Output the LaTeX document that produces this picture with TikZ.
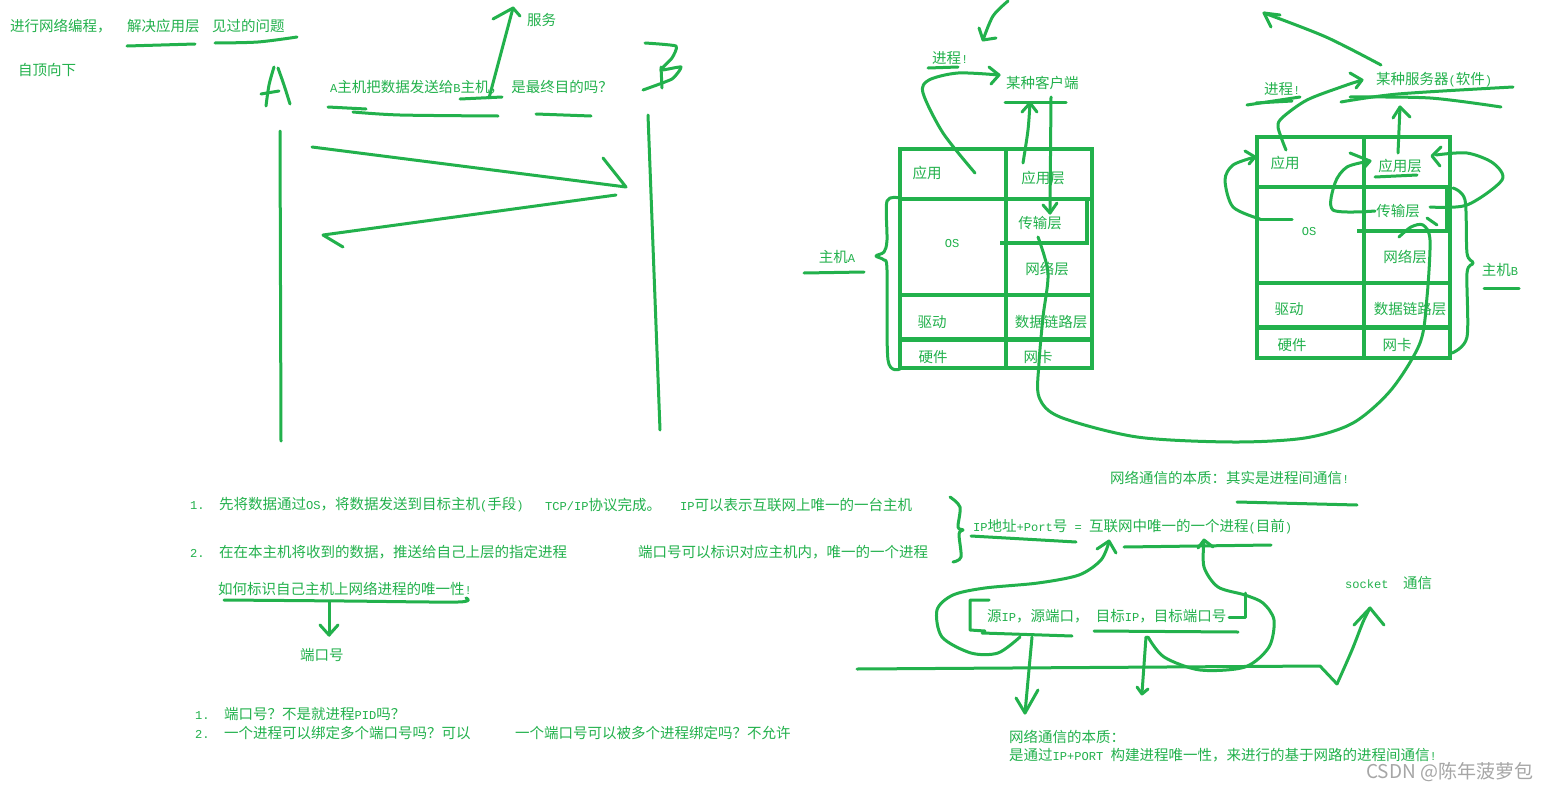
\documentclass[tikz,border=0pt]{standalone}
\usepackage{fontspec}
\setmainfont{Noto Sans CJK SC}
\newfontfamily\monof[Scale=0.833]{Liberation Mono}
\newcommand\hw[1]{{\monof #1}}
\definecolor{pg}{HTML}{22B14C}
\definecolor{wm}{HTML}{A6A6A6}
\begin{document}
\begin{tikzpicture}[x=1pt,y=-1pt,
  pen/.style={draw=pg,line width=3pt,line cap=round,line join=round},
  boxln/.style={draw=pg,line width=4pt,line cap=rect},
  txt/.style={text=pg,font=\fontsize{14.5}{17}\selectfont,inner sep=0pt},
  lt/.style={txt,anchor=west}]
\useasboundingbox[fill=white] (0,0) rectangle (1551,790);

% ---------- top left ----------
\node[lt] (t1a) at (10,26) {进行网络编程，};
\node[lt] (t1b) at (127,26) {解决应用层};
\node[lt] (t1c) at (212,26) {见过的问题};
\node[lt] (zd) at (18,70) {自顶向下};
\node[lt] (fw) at (527,20) {服务};
\node[lt] (qa) at (330,87) {\hw{A}主机把数据发送给\hw{B}主机，\hw{ }是最终目的吗？};

\draw[pen] (127,46) -- (195,44);
\draw[pen] plot[smooth] coordinates {(215,43) (258,42) (297,37)};
\draw[pen] (489,98) -- (513,8);
\draw[pen] (493,19) -- (513,8) -- (520,16);
\draw[pen] (460,99) -- (502,97);
% letter A
\draw[pen] plot[smooth] coordinates {(266,106) (269,85) (274,67)};
\draw[pen] plot[smooth] coordinates {(278,68) (284,85) (290,104)};
\draw[pen] (261,94) -- (279,91);
% letter B
\draw[pen] plot[smooth,tension=0.3] coordinates {(645,43) (676,46) (672,58) (661,70) (681,67) (672,79) (643,90)};
\draw[pen] (661,67) -- (662,88);
% underlines
\draw[pen] (328,107) -- (366,109);
\draw[pen] plot[smooth] coordinates {(353,112) (400,115) (498,116)};
\draw[pen] (536,114) -- (591,116);
% host lines
\coordinate (Atop) at (280,131);
\coordinate (Abot) at (281,441);
\coordinate (Btop) at (648,115);
\coordinate (Bbot) at (660,430);
\draw[pen] (Atop) -- (Abot);
\draw[pen] (Btop) -- (Bbot);
\draw[pen] (312,147) -- (626,187) -- (603,158);
\draw[pen] (616,195) -- (323,235) -- (343,247);

% ---------- host A ----------
\draw[boxln] (900,149) rectangle (1092,368);
\draw[boxln] (1006,149) -- (1006,368);
\draw[boxln] (900,199) -- (1092,199);
\draw[boxln] (1002,243) -- (1087,243);
\draw[boxln] (1087,199) -- (1087,243);
\draw[boxln] (900,295) -- (1092,295);
\draw[draw=pg,line width=5pt] (900,339) -- (1092,339);

\node[txt] (a1) at (927,173) {应用};
\node[txt] (a2) at (1043,178) {应用层};
\node[txt] (a3) at (1040,223) {传输层};
\node[txt] (a4) at (952,244) {\hw{OS}};
\node[txt] (a5) at (1047,269) {网络层};
\node[txt] (a6) at (932,322) {驱动};
\node[txt] (a7) at (1051,322) {数据链路层};
\node[txt] (a8) at (933,357) {硬件};
\node[txt] (a9) at (1038,357) {网卡};
\node[txt] (ha) at (837,257) {主机\hw{A}};
\node[lt] (pa) at (932,58) {进程\hw{!}};
\node[lt] (kh) at (1006,83) {某种客户端};

\draw[pen] plot[smooth] coordinates {(1008,1) (993,16) (983,40)};
\draw[pen] (979,28) -- (983,40) -- (996,38);
\draw[pen] (928,68) -- (958,67);
\draw[pen] plot[smooth] coordinates {(975,173) (943,133) (923,93) (929,80) (958,73) (999,75)};
\draw[pen] (989,67) -- (999,75) -- (991,84);
\draw[pen] (1005,102) -- (1066,102);
\draw[pen] plot[smooth] coordinates {(1023,163) (1028,130) (1030,103)};
\draw[pen] (1022,112) -- (1030,103) -- (1037,112);
\draw[pen] (1051,97) -- (1050,213);
\draw[pen] (1043,205) -- (1050,213) -- (1057,203);
\draw[pen] plot[smooth] coordinates {(900,198) (887,201) (887,240) (884,252) (876,256) (884,260) (887,270) (888,360) (900,369)};
\draw[pen] (804,273) -- (864,272);

% long connecting curve
\draw[pen] plot[smooth] coordinates {(1038,237) (1048,273) (1043,317) (1039,363) (1039,397) (1060,417) (1137,437) (1233,442) (1305,438) (1353,423) (1391,390) (1420,343) (1427,297) (1430,240) (1423,225) (1411,227) (1399,237)};
\draw[pen] (1427,218) -- (1437,225);

% ---------- host B ----------
\draw[boxln] (1257,137) rectangle (1450,358);
\draw[boxln] (1364,137) -- (1364,358);
\draw[boxln] (1257,187) -- (1450,187);
\draw[boxln] (1359,231) -- (1447,231);
\draw[boxln] (1447,187) -- (1447,231);
\draw[boxln] (1257,283) -- (1450,283);
\draw[draw=pg,line width=5pt] (1257,327) -- (1450,327);

\node[txt] (b1) at (1285,163) {应用};
\node[txt] (b2) at (1400,166) {应用层};
\node[txt] (b3) at (1398,211) {传输层};
\node[txt] (b4) at (1309,232) {\hw{OS}};
\node[txt] (b5) at (1405,257) {网络层};
\node[txt] (b6) at (1289,309) {驱动};
\node[txt] (b7) at (1410,309) {数据链路层};
\node[txt] (b8) at (1292,345) {硬件};
\node[txt] (b9) at (1397,345) {网卡};
\node[txt] (hb) at (1500,270) {主机\hw{B}};
\node[lt] (pb) at (1264,89) {进程\hw{!}};
\node[lt] (fq) at (1376,80) {某种服务器\hw{(}软件\hw{)}};

\draw[pen] (1292,219) -- (1260,219);
\draw[pen] plot[smooth] coordinates {(1260,219) (1233,207) (1225,180) (1233,165) (1255,157)};
\draw[pen] (1245,151) -- (1255,157) -- (1249,164);
\draw[pen] plot[smooth] coordinates {(1375,211) (1333,210) (1335,183) (1347,167) (1370,161)};
\draw[pen] (1350,153) -- (1370,161) -- (1364,168);
\draw[pen] plot[smooth] coordinates {(1430,207) (1467,205) (1502,180) (1493,163) (1467,153) (1436,155)};
\draw[pen] (1441,147) -- (1432,156) -- (1440,166);
\draw[pen] plot[smooth] coordinates {(1286,150) (1278,127) (1283,117) (1307,100) (1341,87) (1362,80)};
\draw[pen] (1350,73) -- (1362,80) -- (1356,88);
\draw[pen] (1247,105) -- (1300,97);
\draw[pen] (1256,103) -- (1292,101);
\draw[pen] plot[smooth] coordinates {(1341,102) (1398,94) (1513,87)};
\draw[pen] plot[smooth] coordinates {(1350,97) (1430,98) (1501,107)};
\draw[pen] (1398,153) -- (1400,107);
\draw[pen] (1393,118) -- (1400,107) -- (1410,117);
\draw[pen] plot[smooth] coordinates {(1381,65) (1326,37) (1264,13)};
\draw[pen] (1271,27) -- (1264,13) -- (1280,15);
\draw[pen] (1375,177) -- (1417,175);
\draw[pen] plot[smooth] coordinates {(1452,353) (1467,337) (1467,273) (1473,263) (1467,253) (1465,200) (1453,188)};
\draw[pen] (1484,288) -- (1519,288);

% ---------- bottom left ----------
\node[lt] (l1a) at (190,505) {\hw{1.\ \ }先将数据通过\hw{OS}，将数据发送到目标主机\hw{(}手段\hw{)}};
\node[lt] (l1b) at (545,505) {\hw{TCP/IP}协议完成。};
\node[lt] (l1c) at (680,505) {\hw{IP}可以表示互联网上唯一的一台主机};
\node[lt] (l2a) at (190,552) {\hw{2.\ \ }在在本主机将收到的数据，推送给自己上层的指定进程};
\node[lt] (l2b) at (638,552) {端口号可以标识对应主机内，唯一的一个进程};
\node[lt] (rh) at (218,589) {如何标识自己主机上网络进程的唯一性\hw{!}};
\node[lt] (dk) at (300,655) {端口号};
\node[lt] (q1) at (195,714) {\hw{1.\ \ }端口号？不是就进程\hw{PID}吗？};
\node[lt] (q2) at (195,733) {\hw{2.\ \ }一个进程可以绑定多个端口号吗？可以};
\node[lt] (q3) at (515,733) {一个端口号可以被多个进程绑定吗？不允许};

\draw[pen] plot[smooth] coordinates {(950,497) (960,507) (958,527) (963,530) (959,534) (961,557) (953,562)};
\draw[pen] plot[smooth] coordinates {(224,600) (345,601) (458,602) (466,598)};
\draw[pen] (329,602) -- (329,635);
\draw[pen] (320,625) -- (329,635) -- (338,625);

% ---------- bottom right ----------
\node[lt] (bz) at (1110,478) {网络通信的本质：其实是进程间通信\hw{!}};
\node[lt] (ip) at (973,527) {\hw{IP}地址\hw{+Port}号\hw{ = }互联网中唯一的一个进程\hw{(}目前\hw{)}};
\node[lt] (yip) at (987,616) {源\hw{IP}，源端口，\hw{ }目标\hw{IP}，目标端口号};
\node[lt] (sk) at (1345,583) {\hw{socket\ \ }通信};
\node[lt] (bz2) at (1009,737) {网络通信的本质：};
\node[lt] (bz3) at (1009,755) {是通过\hw{IP+PORT }构建进程唯一性，来进行的基于网路的进程间通信\hw{!}};
\node[anchor=west,inner sep=0pt,text=wm,font=\fontsize{19}{22}\selectfont] (wmk) at (1366,772) {CSDN @陈年菠萝包};

\draw[pen] (1237,502) -- (1357,505);
\draw[pen] (971,536) -- (1076,542);
\draw[pen] (1124,547) -- (1271,545);
\draw[pen] plot[smooth] coordinates {(1020,637) (998,653) (971,653) (942,637) (937,610) (953,595) (985,588) (1038,583) (1079,575) (1101,560) (1109,542)};
\draw[pen] (1097,549) -- (1109,541) -- (1116,553);
\draw[pen] plot[smooth] coordinates {(1148,637) (1164,657) (1200,670) (1245,667) (1269,647) (1274,620) (1263,603) (1245,595) (1218,587) (1204,567) (1204,541)};
\draw[pen] (1198,548) -- (1204,540) -- (1213,547);
\draw[pen] (1245,593) -- (1245,617) -- (1229,617);
\draw[pen] (989,600) -- (970,600) -- (970,630) -- (985,631);
\draw[pen] (982,633) -- (1072,636);
\draw[pen] (1094,631) -- (1238,632);
\draw[pen] (1032,637) -- (1025,713);
\draw[pen] (1016,698) -- (1025,713) -- (1038,690);
\draw[pen] (1146,637) -- (1142,693);
\draw[pen] (1137,687) -- (1142,694) -- (1148,689);
\draw[pen] (857,669) -- (1320,666) -- (1337,684);
\draw[pen] plot[smooth] coordinates {(1337,684) (1352,650) (1363,622) (1370,608)};
\draw[pen] (1354,625) -- (1370,608) -- (1384,625);
\end{tikzpicture}
\end{document}
